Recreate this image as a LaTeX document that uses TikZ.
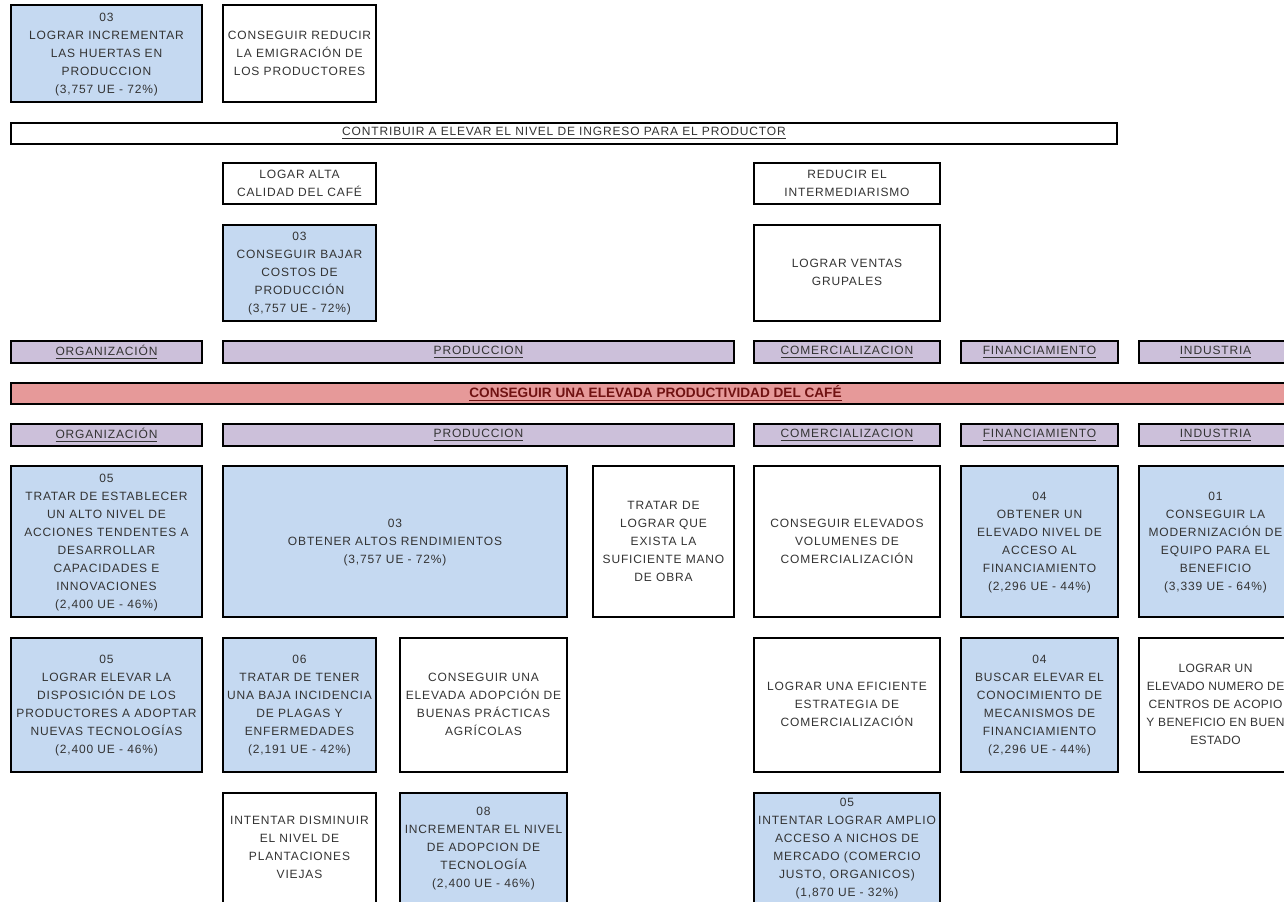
\documentclass[tikz,border=0pt]{standalone}
\usepackage{fontspec}
\setmainfont{Liberation Sans}
\newfontfamily\cajafont{Liberation Sans}[LetterSpace=7]
\newfontfamily\angostafont{Liberation Sans}[LetterSpace=3]
\usetikzlibrary{shadows}
\definecolor{azul}{RGB}{197,217,241}
\definecolor{lila}{RGB}{204,192,218}
\definecolor{rojo}{RGB}{230,153,153}
\definecolor{granate}{RGB}{112,18,18}
\newcommand\lineas[1]{\begin{tabular}{@{}c@{}}#1\end{tabular}}
\tikzset{
  caja/.style={draw=black,line width=1pt,inner sep=0pt,fill=white,
    text=black!80,font=\cajafont\fontsize{6}{9}\selectfont,
    drop shadow={shadow xshift=0.3pt,shadow yshift=-0.7pt,fill=black!55}},
  meta/.style={caja,fill=azul},
  eje/.style={caja,fill=lila},
  central/.style={caja,fill=rojo,text=granate,font=\bfseries\fontsize{6.8}{9}\selectfont},
  marco/.style n args={4}{at={({(#1+#3)/2},{(#2+#4)/2})},
    minimum width={(#3-#1)*0.5pt},minimum height={(#4-#2)*0.5pt}}
}
\begin{document}
\begin{tikzpicture}[x=0.5pt,y=-0.5pt]
\useasboundingbox (0,0) rectangle (1284,901);
\clip (0,0) rectangle (1284,901);
\node[meta,marco={11}{5}{202}{102}] (huertas) {\lineas{03\\LOGRAR INCREMENTAR\\LAS HUERTAS EN\\PRODUCCION\\(3,757 UE - 72\%)}};
\node[caja,marco={223}{5}{376}{102}] (emigracion) {\lineas{CONSEGUIR REDUCIR\\LA EMIGRACIÓN DE\\LOS PRODUCTORES}};
\node[caja,marco={11}{123}{1117}{144}] (ingreso) {\underline{CONTRIBUIR A ELEVAR EL NIVEL DE INGRESO PARA EL PRODUCTOR}};
\node[caja,marco={223}{163}{376}{204}] (calidad) {\lineas{LOGAR ALTA\\CALIDAD DEL CAFÉ}};
\node[caja,marco={754}{163}{940}{204}] (intermediarismo) {\lineas{REDUCIR EL\\INTERMEDIARISMO}};
\node[meta,marco={223}{225}{376}{321}] (costos) {\lineas{03\\CONSEGUIR BAJAR\\COSTOS DE\\PRODUCCIÓN\\(3,757 UE - 72\%)}};
\node[caja,marco={754}{225}{940}{321}] (ventas) {\lineas{LOGRAR VENTAS\\GRUPALES}};
\foreach \fila/\ya/\yb in {1/341/363,2/424/446}{
  \node[eje,marco={11}{\ya}{202}{\yb}] (org\fila) {\underline{ORGANIZACIÓN}};
  \node[eje,marco={223}{\ya}{734}{\yb}] (prod\fila) {\underline{PRODUCCION}};
  \node[eje,marco={754}{\ya}{940}{\yb}] (com\fila) {\underline{COMERCIALIZACION}};
  \node[eje,marco={961}{\ya}{1118}{\yb}] (fin\fila) {\underline{FINANCIAMIENTO}};
  \node[eje,marco={1139}{\ya}{1292}{\yb}] (ind\fila) {\underline{INDUSTRIA}};
}
\node[central,marco={11}{383}{1300}{404}] (productividad) {\underline{CONSEGUIR UNA ELEVADA PRODUCTIVIDAD DEL CAFÉ}};
\node[meta,marco={11}{466}{202}{617}] (capacidades) {\lineas{05\\TRATAR DE ESTABLECER\\UN ALTO NIVEL DE\\ACCIONES TENDENTES A\\DESARROLLAR\\CAPACIDADES E\\INNOVACIONES\\(2,400 UE - 46\%)}};
\node[meta,marco={223}{466}{567}{617}] (rendimientos) {\lineas{03\\OBTENER ALTOS RENDIMIENTOS\\(3,757 UE - 72\%)}};
\node[caja,marco={593}{466}{734}{617}] (manoobra) {\lineas{TRATAR DE\\LOGRAR QUE\\EXISTA LA\\SUFICIENTE MANO\\DE OBRA}};
\node[caja,marco={754}{466}{940}{617}] (volumenes) {\lineas{CONSEGUIR ELEVADOS\\VOLUMENES DE\\COMERCIALIZACIÓN}};
\node[meta,marco={961}{466}{1118}{617}] (acceso) {\lineas{04\\OBTENER UN\\ELEVADO NIVEL DE\\ACCESO AL\\FINANCIAMIENTO\\(2,296 UE - 44\%)}};
\node[meta,marco={1139}{466}{1292}{617}] (equipo) {\lineas{01\\CONSEGUIR LA\\MODERNIZACIÓN DE\\EQUIPO PARA EL\\BENEFICIO\\(3,339 UE - 64\%)}};
\node[meta,marco={11}{638}{202}{772}] (disposicion) {\lineas{05\\LOGRAR ELEVAR LA\\DISPOSICIÓN DE LOS\\PRODUCTORES A ADOPTAR\\NUEVAS TECNOLOGÍAS\\(2,400 UE - 46\%)}};
\node[meta,marco={223}{638}{376}{772}] (plagas) {\lineas{06\\TRATAR DE TENER\\UNA BAJA INCIDENCIA\\DE PLAGAS Y\\ENFERMEDADES\\(2,191 UE - 42\%)}};
\node[caja,marco={400}{638}{567}{772}] (practicas) {\lineas{CONSEGUIR UNA\\ELEVADA ADOPCIÓN DE\\BUENAS PRÁCTICAS\\AGRÍCOLAS}};
\node[caja,marco={754}{638}{940}{772}] (estrategia) {\lineas{LOGRAR UNA EFICIENTE\\ESTRATEGIA DE\\COMERCIALIZACIÓN}};
\node[meta,marco={961}{638}{1118}{772}] (mecanismos) {\lineas{04\\BUSCAR ELEVAR EL\\CONOCIMIENTO DE\\MECANISMOS DE\\FINANCIAMIENTO\\(2,296 UE - 44\%)}};
\node[caja,marco={1139}{638}{1292}{772},font=\angostafont\fontsize{6}{9}\selectfont] (acopio) {\lineas{LOGRAR UN\\ELEVADO NUMERO DE\\CENTROS DE ACOPIO\\Y BENEFICIO EN BUEN\\ESTADO}};
\node[caja,marco={223}{793}{376}{903}] (plantaciones) {\lineas{INTENTAR DISMINUIR\\EL NIVEL DE\\PLANTACIONES\\VIEJAS}};
\node[meta,marco={400}{793}{567}{903}] (tecnologia) {\lineas{08\\INCREMENTAR EL NIVEL\\DE ADOPCION DE\\TECNOLOGÍA\\(2,400 UE - 46\%)}};
\node[meta,marco={754}{793}{940}{903}] (nichos) {\lineas{05\\INTENTAR LOGRAR AMPLIO\\ACCESO A NICHOS DE\\MERCADO (COMERCIO\\JUSTO, ORGANICOS)\\(1,870 UE - 32\%)}};
\end{tikzpicture}
\end{document}
